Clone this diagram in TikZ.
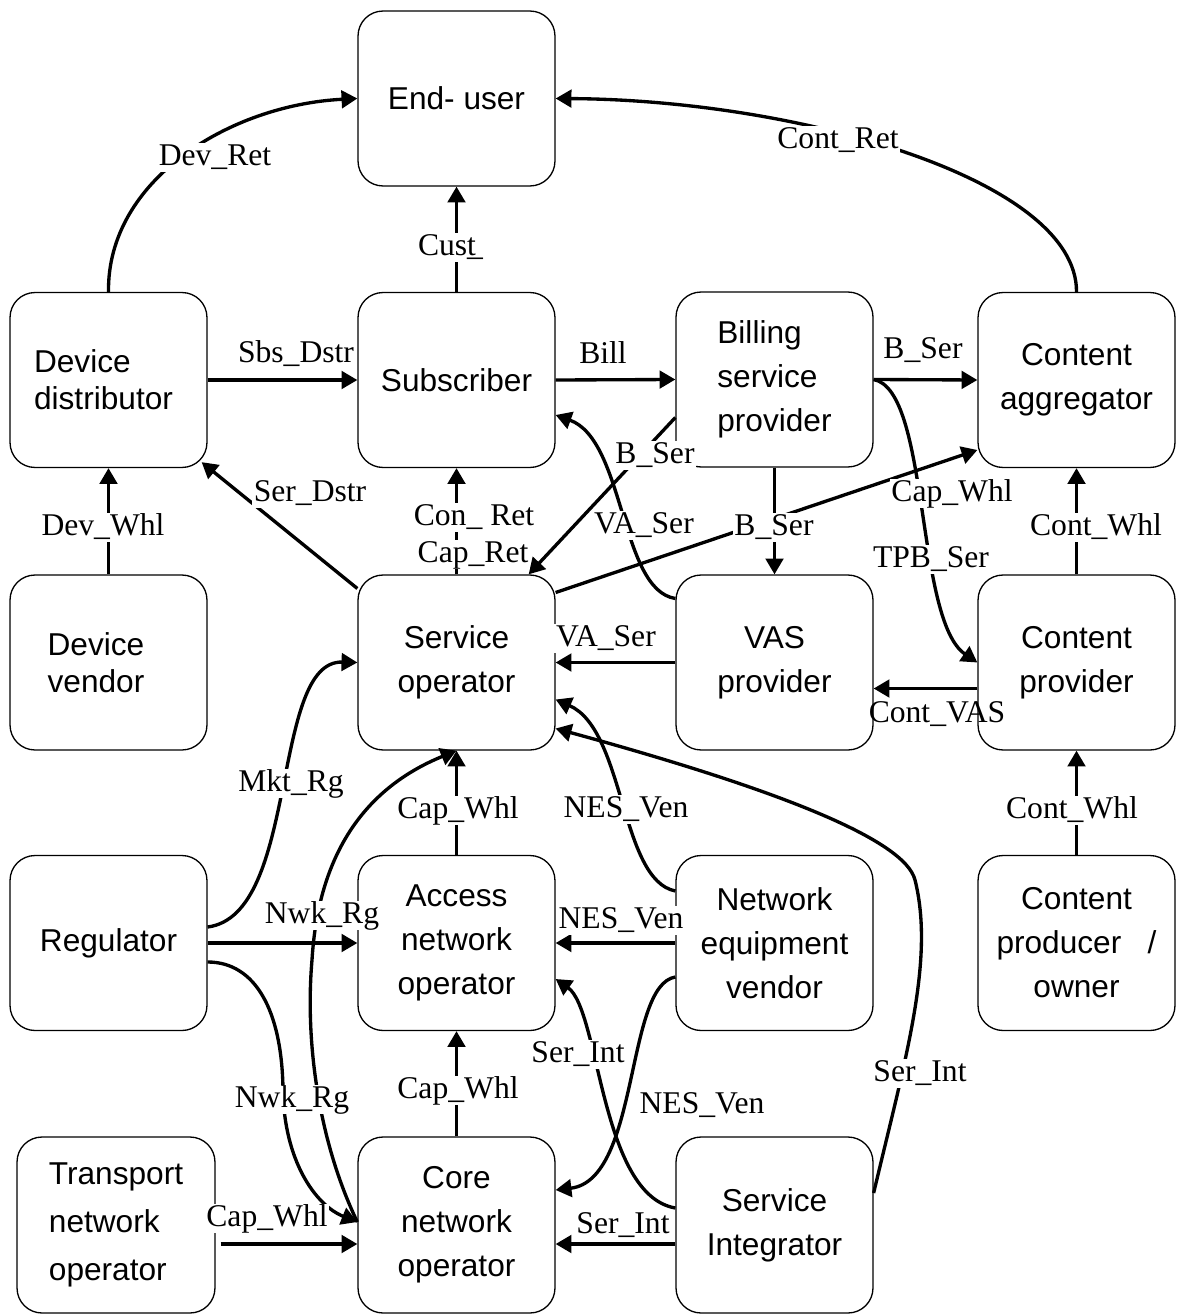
\documentclass[tikz,border=0pt]{standalone}
\usepackage{fontspec}
\setmainfont{Liberation Serif}
\setsansfont{Liberation Sans}
\usetikzlibrary{arrows.meta,calc}

\begin{document}
\begin{tikzpicture}[x=0.02cm,y=-0.02cm,
  actor/.style={draw, line width=0.75pt, rounded corners=0.5cm,
    minimum width=3.94cm, minimum height=3.5cm, inner sep=0pt,
    align=center, font=\sffamily\fontsize{18}{25}\selectfont},
  flow/.style={line width=1.9pt, -{Triangle[length=9pt,width=10pt]}},
  tag/.style={fill=white, inner xsep=1pt, inner ysep=0.3pt,
    text height=12.5pt, text depth=3.6pt, yshift=-1.4pt,
    font=\rmfamily\fontsize{18}{20}\selectfont},
  tagclear/.style={tag, fill=none},
]
\useasboundingbox (0,0) rectangle (1176,1314);

% ---------- actors ----------
\node[actor] (eu)  at (456.5,98.5)  {End- user};

\node[actor, align=left, font=\sffamily\fontsize{18}{21}\selectfont] (dd) at (108.5,380) {Device\\distributor\rule{0.2cm}{0pt}};
\node[actor] (sub) at (456.5,380) {Subscriber};
\node[actor, align=left] (bsp) at (774.5,379.5) {Billing\\service\\provider};
\node[actor] (ca)  at (1076.5,380) {Content\\aggregator};

\node[actor, align=left, font=\sffamily\fontsize{18}{21}\selectfont] (dv) at (108.5,662.5) {Device\\vendor\rule{0.5cm}{0pt}};
\node[actor] (so)  at (456.5,662.5) {Service\\operator};
\node[actor] (vas) at (774.5,662.5) {VAS\\provider};
\node[actor] (cp)  at (1076.5,662.5) {Content\\provider};

\node[actor] (reg) at (108.5,943) {Regulator};
\node[actor] (ano) at (456.5,943) {Access\\network\\operator};
\node[actor] (nev) at (774.5,943) {Network\\equipment\\vendor};
\node[actor] (cpo) at (1076.5,943) {Content\\producer\ \ \ /\\owner};

\node[actor, minimum width=3.96cm, minimum height=3.52cm, align=left,
      font=\sffamily\fontsize{18}{27.5}\selectfont] (tno) at (116,1225) {Transport\\network\\operator};
\node[actor, minimum height=3.52cm] (cno) at (456.5,1225) {Core\\network\\operator};
\node[actor, minimum height=3.52cm] (si)  at (774.5,1225) {Service\\Integrator};

% ---------- relations ----------
% towards the end-user
\draw[flow] (dd.north) .. controls (107,180) and (230,105) .. (eu.west);
\draw[flow] (ca.north) .. controls (1077,180) and (800,100) .. (eu.east);
\draw[flow] (sub.north) -- (eu.south);

% second row
\draw[flow] (dd.east) -- (sub.west);
\draw[flow] (sub.east) -- (bsp.west);
\draw[flow] (bsp.east) -- (ca.west);
\draw[flow] (dv.north) -- (dd.south);
\draw[flow] ($(so.west)+(0,-74)$) -- ($(dd.south east)+(-6,-6)$);
\draw[flow] (so.north) -- (sub.south);
\draw[flow] ($(bsp.west)+(0,38)$) -- ($(so.north east)+(-27,0)$);
\draw[flow] ($(vas.west)+(0,-64)$) .. controls (620,590) and (625,440) .. ($(sub.east)+(0,35)$);
\draw[flow] ($(so.east)+(0,-70)$) -- ($(ca.west)+(0,70)$);
\draw[flow] (bsp.east) .. controls (930,390) and (915,620) .. (cp.west);
\draw[flow] (bsp.south) -- (vas.north);
\draw[flow] (cp.north) -- (ca.south);

% third row
\draw[flow] (vas.west) -- (so.east);
\draw[flow] ($(cp.west)+(0,26)$) -- ($(vas.east)+(0,26)$);
\draw[flow] (cpo.north) -- (cp.south);
\draw[flow] ($(reg.east)+(0,-16)$) .. controls (300,915) and (270,660) .. (so.west);
\draw[flow] (ano.north) -- (so.south);
\draw[flow] ($(nev.west)+(0,-52)$) .. controls (620,880) and (625,730) .. ($(so.east)+(0,37)$);
\draw[flow] ($(si.east)+(0,-32)$) .. controls (905,1060) and (935,960) .. (915,880)
            .. controls (905,840) and (780,790) .. ($(so.east)+(0,66)$);

% fourth row
\draw[flow] (reg.east) -- (ano.west);
\draw[flow] (nev.west) -- (ano.east);
\draw[flow] ($(reg.east)+(0,19)$) .. controls (255,962) and (282,1010) .. (283,1090)
            .. controls (284,1160) and (315,1205) .. ($(cno.west)+(0,-3)$);
\draw[flow] ($(cno.west)+(0,-3)$) .. controls (318,1140) and (305,1040) .. (312,960)
            .. controls (318,860) and (360,790) .. (so.south);
\draw[flow] (cno.north) -- (ano.south);
\draw[flow] ($(nev.west)+(0,34)$) .. controls (625,985) and (640,1180) .. ($(cno.east)+(0,-35)$);
\draw[flow] ($(si.west)+(0,-17)$) .. controls (600,1195) and (600,1010) .. ($(ano.east)+(0,36)$);

% fifth row
\draw[flow] ($(si.west)+(0,19)$) -- ($(cno.east)+(0,19)$);
\draw[flow] ($(tno.east)+(5,19)$) -- ($(cno.west)+(0,19)$);

% ---------- relation names ----------
\node[tag] (tDevRet)  at (215,155)  {Dev\_Ret};
\node[tag] (tContRet) at (838,138)  {Cont\_Ret};
\node[tag] (tCust)    at (447,245)  {Cus\rlap{\_}t};
\node[tag] (tSbs)     at (296,352)  {Sbs\_Dstr};
\node[tag] (tBill)    at (603,353)  {Bill};
\node[tag] (tBSerA)   at (923,348)  {B\_Ser};
\node[tag] (tBSerB)   at (655,453)  {B\_Ser};
\node[tag] (tSerDstr) at (310,491)  {Ser\_Dstr};
\node[tag] (tDevWhl)  at (103,525)  {Dev\_Whl};
\node[tag] (tConRet)  at (474,515)  {Con\_ Ret};
\node[tag] (tCapRet)  at (473,552)  {Cap\_Ret};
\node[tag] (tVASerA)  at (644,523)  {VA\_Ser};
\node[tag] (tBSerC)   at (774,525)  {B\_Ser};
\node[tag] (tCapWhlA) at (952,491)  {Cap\_Whl};
\node[tag] (tTPB)     at (931,557)  {TPB\_Ser};
\node[tag] (tContWhlA) at (1096,525) {Cont\_Whl};
\node[tag] (tVASerB)  at (606,636)  {VA\_Ser};
\node[tagclear] (tContVAS) at (937,712) {Cont\_VAS};
\node[tag] (tMkt)     at (291,781)  {Mkt\_Rg};
\node[tag] (tCapWhlB) at (458,808)  {Cap\_Whl};
\node[tag] (tNESA)    at (626,807)  {NES\_Ven};
\node[tag] (tContWhlB) at (1072,808) {Cont\_Whl};
\node[tag] (tNwkA)    at (322,913)  {Nwk\_Rg};
\node[tag] (tNESB)    at (621,918)  {NES\_Ven};
\node[tag] (tSerIntA) at (578,1052) {Ser\_Int};
\node[tag] (tCapWhlC) at (458,1088) {Cap\_Whl};
\node[tag] (tNwkB)    at (292,1097) {Nwk\_Rg};
\node[tag] (tNESC)    at (702,1103) {NES\_Ven};
\node[tag] (tSerIntB) at (920,1071) {Ser\_Int};
\node[tag] (tCapWhlD) at (267,1216) {Cap\_Whl};
\node[tag] (tSerIntC) at (623,1223) {Ser\_Int};
\end{tikzpicture}
\end{document}
